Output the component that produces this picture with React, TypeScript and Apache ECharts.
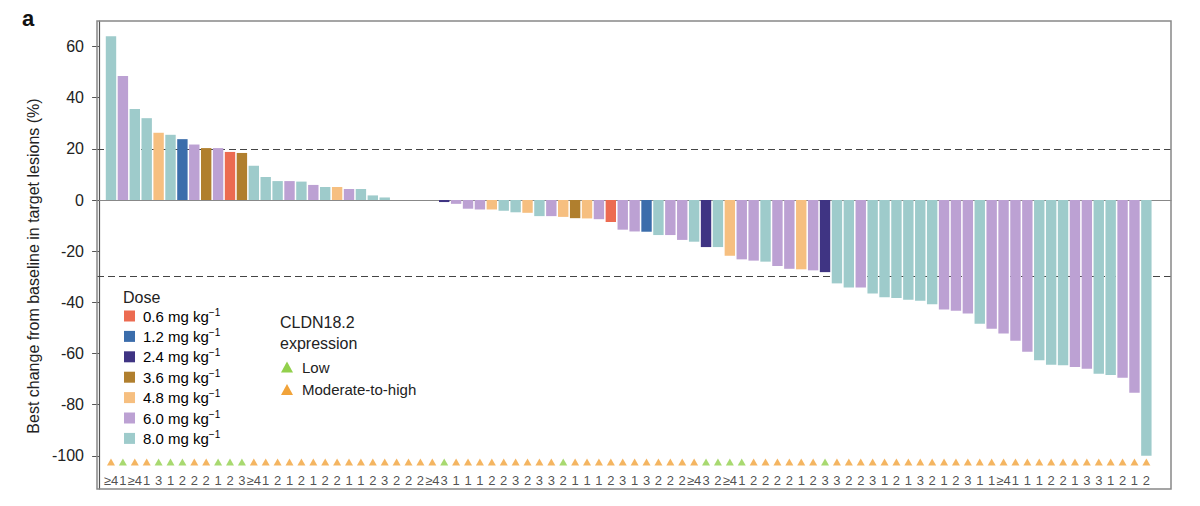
import React, { useRef, useEffect } from 'react';
import * as echarts from 'echarts';

const FONT = '"Liberation Sans", Arial, sans-serif';

// best change (%) per patient, sorted as in the waterfall
const changes = [
  64, 48.5, 35.6, 32, 26.3, 25.5, 23.8, 21.7, 20.3, 20.3,
  18.8, 18.4, 13.4, 9.0, 7.4, 7.4, 7.2, 5.9, 5.1, 5.1,
  4.3, 4.3, 1.8, 1.0, 0, 0, 0, 0, -0.8, -1.5,
  -3.4, -3.7, -3.7, -4.2, -4.8, -5.0, -6.3, -6.3, -6.6, -7.1,
  -7.2, -7.5, -8.6, -11.6, -12.3, -12.4, -13.7, -13.7, -15.6, -16.3,
  -18.4, -18.4, -21.8, -23.2, -23.7, -24.1, -25.8, -26.9, -27.1, -27.5,
  -28.2, -32.6, -34.2, -34.2, -36.6, -38.0, -38.3, -39.0, -39.4, -40.8,
  -42.8, -43.3, -44.4, -48.4, -50.3, -52.2, -55.0, -59.3, -62.7, -64.4,
  -64.6, -65.3, -66.0, -67.9, -68.4, -69.5, -75.4, -100,
];

// dose (mg/kg) per patient
const doses = [
  '8.0', '6.0', '8.0', '8.0', '4.8', '8.0', '1.2', '6.0', '3.6', '6.0',
  '0.6', '3.6', '8.0', '8.0', '8.0', '6.0', '8.0', '6.0', '8.0', '4.8',
  '6.0', '8.0', '8.0', '8.0', '8.0', '8.0', '8.0', '8.0', '2.4', '6.0',
  '6.0', '6.0', '4.8', '8.0', '8.0', '4.8', '8.0', '6.0', '4.8', '3.6',
  '4.8', '6.0', '0.6', '6.0', '6.0', '1.2', '8.0', '6.0', '6.0', '8.0',
  '2.4', '8.0', '4.8', '6.0', '6.0', '8.0', '6.0', '6.0', '4.8', '6.0',
  '2.4', '8.0', '8.0', '6.0', '8.0', '8.0', '8.0', '8.0', '8.0', '8.0',
  '6.0', '6.0', '6.0', '8.0', '6.0', '6.0', '6.0', '6.0', '8.0', '8.0',
  '8.0', '6.0', '6.0', '8.0', '8.0', '6.0', '6.0', '8.0',
];

// CLDN18.2 expression: L = low, M = moderate-to-high
const expression = [
  'M', 'L', 'M', 'M', 'L', 'L', 'L', 'M', 'M', 'L',
  'L', 'L', 'M', 'M', 'M', 'M', 'M', 'M', 'M', 'M',
  'M', 'M', 'M', 'M', 'M', 'M', 'M', 'M', 'L', 'M',
  'M', 'M', 'M', 'M', 'M', 'M', 'M', 'M', 'L', 'M',
  'M', 'M', 'M', 'M', 'M', 'M', 'M', 'M', 'M', 'M',
  'L', 'L', 'L', 'L', 'M', 'M', 'M', 'M', 'M', 'M',
  'L', 'M', 'M', 'M', 'M', 'M', 'M', 'M', 'M', 'M',
  'M', 'M', 'M', 'M', 'M', 'M', 'M', 'M', 'M', 'M',
  'M', 'M', 'M', 'M', 'M', 'M', 'M', 'M',
];

// prior lines of therapy
const priorLines = [
  '≥4', '1', '≥4', '1', '3', '1', '2', '2', '2', '1',
  '2', '3', '≥4', '1', '2', '1', '2', '1', '2', '2',
  '1', '1', '2', '3', '2', '2', '2', '≥4', '3', '1',
  '1', '1', '2', '2', '3', '2', '3', '3', '2', '1',
  '1', '1', '2', '3', '1', '3', '2', '2', '2', '≥4',
  '3', '2', '≥4', '1', '2', '2', '2', '2', '1', '2',
  '3', '3', '2', '2', '3', '1', '2', '1', '3', '2',
  '1', '2', '3', '1', '1', '≥4', '1', '1', '1', '2',
  '2', '1', '3', '3', '1', '2', '1', '2',
];

const doseLevels = ['0.6', '1.2', '2.4', '3.6', '4.8', '6.0', '8.0'];
const doseColors = ['#EC6B51', '#3B6DAB', '#3F3483', '#B07F2E', '#F6BF80', '#BCA1D3', '#9ECBCB'];
const exprLevels = ['Low', 'Moderate-to-high'];
const exprColors = ['#92D04C', '#F1A33A'];

const yTicks = [60, 40, 20, 0, -20, -40, -60, -80, -100];
const thresholds = [20, -30];

const App: React.FC = () => {
  const chartRef = useRef<HTMLDivElement>(null);

  useEffect(() => {
    document.body.style.margin = '0';
    if (!chartRef.current) return;
    const chart = echarts.init(chartRef.current, null, { renderer: 'svg' });

    const barData = changes.map((v, i) => ({
      value: [i + 1, v],
      itemStyle: { color: doseColors[doseLevels.indexOf(doses[i])] },
    }));
    const triData = expression.map((e, i) => ({
      value: [i + 1, -102.4],
      itemStyle: { color: e === 'L' ? exprColors[0] : exprColors[1] },
    }));
    const labelData = priorLines.map((t, i) => ({ value: [i + 1, -109.8], name: t }));

    const doseLegend: any[] = [
      {
        type: 'text', x: 123, y: 297,
        style: { text: 'Dose', font: `16px ${FONT}`, fill: '#222', verticalAlign: 'middle' },
      },
    ];
    doseLevels.forEach((d, i) => {
      const cy = 316 + i * 20.4;
      doseLegend.push({
        type: 'rect', shape: { x: 124, y: cy - 5.5, width: 11, height: 11 },
        style: { fill: doseColors[i] },
      });
      doseLegend.push({
        type: 'text', x: 143, y: cy,
        style: {
          text: `{a|${d} mg kg}{b|−1}`,
          verticalAlign: 'middle',
          rich: {
            a: { fontSize: 15, fontFamily: FONT, color: '#222', lineHeight: 18 },
            b: { fontSize: 10, fontFamily: FONT, color: '#222', lineHeight: 10, verticalAlign: 'top' },
          },
        },
      });
    });

    const exprLegend: any[] = [
      {
        type: 'text', x: 280, y: 322,
        style: { text: 'CLDN18.2', font: `16px ${FONT}`, fill: '#222', verticalAlign: 'middle' },
      },
      {
        type: 'text', x: 280, y: 343,
        style: { text: 'expression', font: `16px ${FONT}`, fill: '#222', verticalAlign: 'middle' },
      },
    ];
    exprLevels.forEach((lvl, i) => {
      const cy = 367 + i * 22.5;
      exprLegend.push({
        type: 'polygon',
        shape: { points: [[281, cy + 5.5], [293, cy + 5.5], [287, cy - 5.5]] },
        style: { fill: exprColors[i] },
      });
      exprLegend.push({
        type: 'text', x: 302, y: cy,
        style: { text: lvl, font: `15px ${FONT}`, fill: '#222', verticalAlign: 'middle' },
      });
    });

    const option: any = {
      animation: false,
      textStyle: { fontFamily: FONT },
      grid: { left: 97, right: 29, top: 21, bottom: 17 },
      xAxis: {
        type: 'value',
        min: -0.176,
        max: 90.07,
        axisLine: { show: true, onZero: true, lineStyle: { color: '#888', width: 1.2 } },
        axisTick: { show: false },
        axisLabel: { show: false },
        splitLine: { show: false },
      },
      yAxis: {
        type: 'value',
        min: -113,
        max: 70,
        axisLine: { show: true, lineStyle: { color: '#555', width: 1.2 } },
        axisTick: { show: true, length: 7, customValues: yTicks, lineStyle: { color: '#555' } },
        axisLabel: { customValues: yTicks, fontSize: 16, color: '#222', margin: 13, fontFamily: FONT },
        splitLine: { show: false },
      },
      graphic: [
        {
          type: 'rect', shape: { x: 97, y: 21, width: 1074, height: 468 },
          style: { fill: 'none', stroke: '#888', lineWidth: 1.5 }, z: 100,
        },
        {
          type: 'text', x: 22, y: 18,
          style: { text: 'a', font: `bold 22px ${FONT}`, fill: '#111', verticalAlign: 'middle' },
        },
        {
          type: 'text', x: 33, y: 266, rotation: Math.PI / 2,
          style: {
            text: 'Best change from baseline in target lesions (%)',
            font: `16px ${FONT}`, fill: '#222', align: 'center', verticalAlign: 'middle',
          },
        },
        ...doseLegend,
        ...exprLegend,
      ],
      series: [
        {
          type: 'bar',
          data: barData,
          barWidth: 10.4,
          z: 2,
          markLine: {
            silent: true,
            symbol: 'none',
            z: 1,
            label: { show: false },
            lineStyle: { type: [7, 4], color: '#444', width: 1.2 },
            data: thresholds.map((t) => ({ yAxis: t })),
          },
        },
        {
          type: 'scatter',
          data: triData,
          symbol: 'triangle',
          symbolSize: [8, 7],
          silent: true,
        },
        {
          type: 'scatter',
          data: labelData,
          symbolSize: 0,
          silent: true,
          label: {
            show: true,
            position: 'inside',
            formatter: (p: any) => p.name,
            fontSize: 13,
            color: '#222',
            fontFamily: FONT,
          },
        },
      ],
    };

    chart.setOption(option);
    return () => {
      chart.dispose();
    };
  }, []);

  return <div ref={chartRef} style={{ width: 1200, height: 506 }} />;
};

export default App;
